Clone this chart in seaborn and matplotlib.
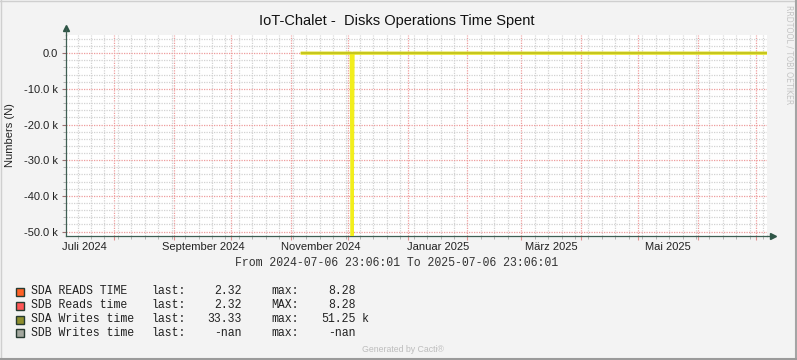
import matplotlib
matplotlib.use("Agg")
import matplotlib.pyplot as plt
import matplotlib.dates as mdates
import matplotlib.ticker as mticker
from matplotlib.patches import Rectangle
from matplotlib.lines import Line2D
import seaborn as sns
import pandas as pd
import numpy as np

# ---- data ----
title = "IoT-Chalet -  Disks Operations Time Spent"
y_label = "Numbers (N)"
x_start = "2024-07-06 23:06:01"
x_end = "2025-07-06 23:06:01"

sda_writes_dates = ["2024-11-06 22:00", "2024-12-02 11:00", "2024-12-02 23:00",
                    "2024-12-03 11:00", "2025-07-06 23:06"]
sda_writes_values = [0, 0, -51250, 0, 0]

y_min = -51250
y_max = 5100

month_label_dates = ["2024-07-01", "2024-09-01", "2024-11-01", "2025-01-01", "2025-03-01", "2025-05-01"]
month_labels = ["Juli 2024", "September 2024", "November 2024", "Januar 2025", "März 2025", "Mai 2025"]

legend_names = ["SDA READS TIME", "SDB Reads time", "SDA Writes time", "SDB Writes time"]
legend_colors = ["#FF6126", "#FF5656", "#8F8F2E", "#A3A79E"]
legend_last = ["2.32", "2.32", "33.33", "-nan"]
legend_maxlbl = ["max:", "MAX:", "max:", "max:"]
legend_max = ["8.28", "8.28", "51.25", "-nan"]
legend_unit = ["", "", "k", ""]

# ---- figure ----
W, H = 797, 360
fig = plt.figure(figsize=(W / 100, H / 100), dpi=100, facecolor="#F3F3F3")
L, R, T, B = 66, 767, 35, 236
ax = fig.add_axes([L / W, 1 - B / H, (R - L) / W, (B - T) / H])
ax.set_facecolor("white")

df = pd.DataFrame({"date": pd.to_datetime(sda_writes_dates), "value": sda_writes_values})
base = df[df["value"] == 0]
sns.lineplot(data=df, x="date", y="value", ax=ax, color="#F2EE1C", linewidth=2.2, sort=False, zorder=5)
sns.lineplot(data=base, x="date", y="value", ax=ax, color="#C6C61E", linewidth=1.7, sort=False, zorder=6)

ax.set_xlim(pd.Timestamp(x_start), pd.Timestamp(x_end))
ax.set_ylim(y_min, y_max)

# grid
ax.xaxis.set_major_locator(mdates.MonthLocator())
ax.xaxis.set_minor_locator(mdates.WeekdayLocator(byweekday=mdates.SA))
ax.xaxis.set_major_formatter(mticker.NullFormatter())
ax.yaxis.set_major_locator(mticker.MultipleLocator(10000))
ax.yaxis.set_minor_locator(mticker.MultipleLocator(2000))

def yfmt(v, pos):
    if abs(v) < 1e-9:
        return "0.0"
    return f"{v/1000:.1f} k"

ax.yaxis.set_major_formatter(mticker.FuncFormatter(yfmt))
ax.grid(which="minor", color="#D2D2D2", linestyle=(0, (1, 1)), linewidth=0.9, zorder=0)
ax.grid(which="major", color="#EE9C9C", linestyle=(0, (1, 1)), linewidth=0.9, zorder=1)
ax.set_axisbelow(True)

ax.set_xlabel("")
ax.set_ylabel(y_label, fontsize=8, family="Liberation Sans", color="#222222", labelpad=6)
ax.tick_params(axis="y", which="major", length=3, width=0.8, color="#9A7070", labelsize=8,
               labelcolor="#222222", pad=3)
ax.tick_params(axis="y", which="minor", length=2, width=0.6, color="#AAAAAA")
ax.tick_params(axis="x", which="major", length=3, width=0.8, color="#E09090")
ax.tick_params(axis="x", which="minor", length=2, width=0.6, color="#AAAAAA")
for lbl in ax.get_yticklabels():
    lbl.set_family("Liberation Sans")

for s in ["top", "right"]:
    ax.spines[s].set_visible(False)
for s in ["left", "bottom"]:
    ax.spines[s].set_color("#3E5E52")
    ax.spines[s].set_linewidth(0.9)
ax.spines["left"].set_bounds(y_min, y_max)

# arrows
ax.plot([0], [1.035], marker="^", color="#2E5546", markersize=5, transform=ax.transAxes, clip_on=False)
ax.plot([0, 0], [1.0, 1.03], color="#3E5E52", lw=0.9, transform=ax.transAxes, clip_on=False)
ax.plot([1.0, 1.006], [0, 0], color="#3E5E52", lw=0.9, transform=ax.transAxes, clip_on=False)
ax.plot([1.008], [0], marker=">", color="#2E5546", markersize=5, transform=ax.transAxes, clip_on=False)

# month labels
trans = matplotlib.transforms.blended_transform_factory(ax.transData, ax.transAxes)
for d, lab in zip(month_label_dates, month_labels):
    xd = pd.Timestamp(d) + pd.Timedelta(days=15.5)
    ax.text(mdates.date2num(xd), -0.055, lab, transform=trans, ha="center", va="center",
            fontsize=8, family="Liberation Sans", color="#222222", clip_on=False)

# title
fig.text(397 / W, 1 - 21 / H, title, ha="center", va="center", fontsize=10.5,
         family="Liberation Sans", color="#111111")

# right vertical credit
fig.text(789 / W, 1 - 5 / H, "RRDTOOL / TOBI OETIKER", rotation=270, ha="center", va="top",
         fontsize=5.6, family="DejaVu Sans", color="#C4C4C4")

# date range
fig.text(397 / W, 1 - 263 / H, f"From {x_start} To {x_end}", ha="center", va="center",
         fontsize=8.3, family="Liberation Mono", color="#333333")

# legend
rows_y = [291.5, 305.3, 319.2, 333.0]
for yy, name, col, last, ml, mx, un in zip(rows_y, legend_names, legend_colors, legend_last,
                                           legend_maxlbl, legend_max, legend_unit):
    fy = 1 - yy / H
    fig.patches.append(Rectangle((15.5 / W, 1 - (yy + 4.3) / H), 8.0 / W, 8.0 / H,
                                 transform=fig.transFigure, facecolor=col,
                                 edgecolor="#263A30", linewidth=1.0))
    kw = dict(fontsize=8.3, family="Liberation Mono", color="#222222", va="center")
    fig.text(30.5 / W, fy, name, ha="left", **kw)
    fig.text(151.5 / W, fy, "last:", ha="left", **kw)
    fig.text(241.5 / W, fy, last, ha="right", **kw)
    fig.text(271.5 / W, fy, ml, ha="left", **kw)
    fig.text(355.5 / W, fy, mx, ha="right", **kw)
    if un:
        fig.text(362 / W, fy, un, ha="left", **kw)

fig.text(403 / W, 1 - 349 / H, "Generated by Cacti®", ha="center", va="center",
         fontsize=6.3, family="Liberation Sans", color="#BDBDBD")

# border
fig.add_artist(Line2D([0.5 / W, 0.5 / W], [0, 1], transform=fig.transFigure, color="#CFCFCF", lw=1))
fig.add_artist(Line2D([0, 1], [1 - 0.5 / H, 1 - 0.5 / H], transform=fig.transFigure, color="#CFCFCF", lw=1))
fig.add_artist(Line2D([1 - 1.5 / W, 1 - 1.5 / W], [0, 1], transform=fig.transFigure, color="#A4A4A4", lw=1.5))
fig.add_artist(Line2D([0, 1], [1.5 / H, 1.5 / H], transform=fig.transFigure, color="#9A9A9A", lw=1.5))

fig.savefig("out.png", dpi=100, facecolor=fig.get_facecolor())
